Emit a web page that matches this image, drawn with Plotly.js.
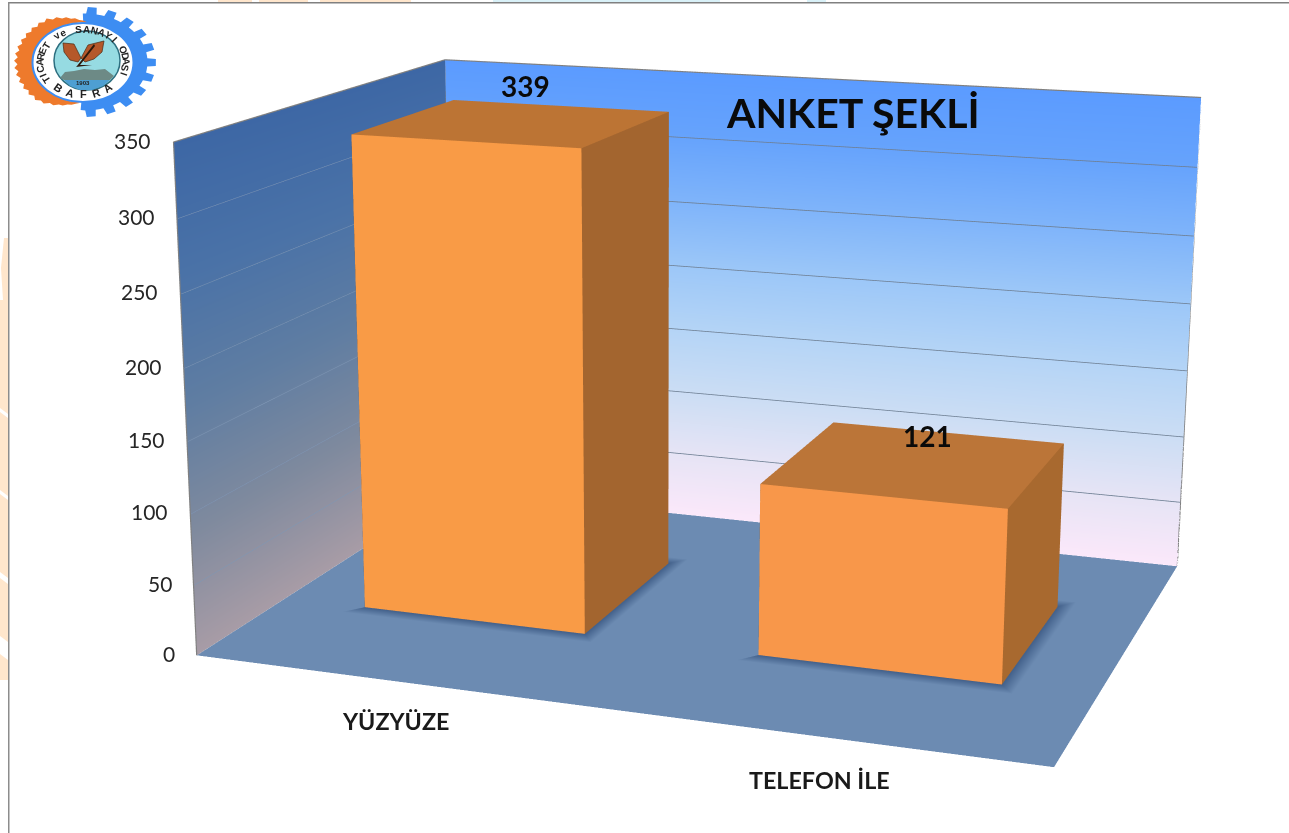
<!DOCTYPE html><html><head><meta charset="utf-8"><script src="https://cdn.plot.ly/plotly-3.0.1.min.js"></script></head><body style="margin:0;background:#fff;overflow:hidden"><div id="c" style="position:absolute;left:-5px;top:-730px"></div><script>
// ---- data ----
const categories=['YÜZYÜZE','TELEFON İLE'];
const values=[339,121];
const zTicks=[0,50,100,150,200,250,300,350];
const titleText='ANKET ŞEKLİ';
const logoTop='TICARET ve SANAYI ODASI';
const logoBottom='BAFRA';
const logoYear='1903';
// ---- plot geometry (the photographed window is a part of a larger plot) ----
const PW=1322,PH=2339,OX=-5,OY=-730;
const xRange=[-0.5,1.5],yRange=[0,1],zRange=[0,350];
const barHalfW=0.2855,barY=[0.305,0.705];
const px=x=>(x-OX)/PW,py=y=>1-(y-OY)/PH;
// ---- colours ----
const backStops=[[0,'#fbe8fa'],[50,'#e6e4f5'],[100,'#cbddf4'],[150,'#b4d4f6'],[200,'#9cc7f8'],[250,'#7fb4fa'],[300,'#66a3fc'],[350,'#5b9bff']];
const leftStops=[[0,'#a89ca6'],[87.5,'#7f8a9e'],[175,'#5f7da2'],[262.5,'#4a72a7'],[350,'#3d67a5']];
const flat={ambient:1,diffuse:0,specular:0,fresnel:0,roughness:1};
const base={type:'mesh3d',lighting:flat,flatshading:true,hoverinfo:'skip',showscale:false};
function wall(stops,fx,fy){const x=[],y=[],z=[],c=[],i=[],j=[],k=[];stops.forEach((s,n)=>{x.push(fx[0],fx[1]);y.push(fy[0],fy[1]);z.push(s[0],s[0]);c.push(s[1],s[1]);if(n){const a=2*n-2;i.push(a,a);j.push(a+1,a+3);k.push(a+3,a+2)}});return {...base,x,y,z,i,j,k,vertexcolor:c}}
function shadow(cx){const a=cx-barHalfW,b=cx+barHalfW,c=barY[0],d=barY[1],e=0.035,f=0.035,h=0.6,dark='#42608a',fl='#6c8bb2';
 const x=[a,b,b,a,a-e,b+e,b+e,a-e],y=[c,c,d,d,c-f,c-f,d+f,d+f],z=Array(8).fill(h),col=[dark,dark,dark,dark,fl,fl,fl,fl];
 return {...base,x,y,z,vertexcolor:col,i:[0,0,0,0,1,1,2,2],j:[1,5,1,2,2,6,3,7],k:[5,4,2,3,6,5,7,6]}}
function bar(cx,v,fc,tc,sc){const a=cx-barHalfW,b=cx+barHalfW,c=barY[0],d=barY[1];
 return {...base,x:[a,b,b,a,a,b,b,a],y:[c,c,d,d,c,c,d,d],z:[0,0,0,0,v,v,v,v],i:[0,0,4,4,1,1,0,0],j:[1,5,5,6,2,6,3,7],k:[5,4,6,7,6,5,7,4],facecolor:[fc,fc,tc,tc,sc,sc,sc,sc]}}
function gridLines(fx,fy,color,width){const x=[],y=[],z=[];zTicks.slice(1,-1).forEach(t=>{x.push(fx[0],fx[1],null);y.push(fy[0],fy[1],null);z.push(t,t,null)});return {type:'scatter3d',mode:'lines',x,y,z,line:{color,width},hoverinfo:'skip',showlegend:false}}
const xl=xRange[0],xr=xRange[1],zt=zRange[1];
const traces=[
 {...base,x:[xl,xr,xr,xl],y:[0,0,1,1],z:[0,0,0,0],i:[0,0],j:[1,2],k:[2,3],color:'#6c8bb2'},
 wall(backStops,[xl,xr],[1,1]),
 wall(leftStops,[xl,xl],[0,1]),
 gridLines([xl,xr],[0.997,0.997],'#6e7f93',1.6),
 gridLines([xl+0.002,xl+0.002],[0,1],'#7f96b4',1),
 {type:'scatter3d',mode:'lines',x:[xl,xl,xl,xr,xr,null,xl,xl],y:[0,0,1,1,1,null,1,1],z:[0,zt,zt,zt,0,null,zt,0],line:{color:'#808080',width:2.4},hoverinfo:'skip',showlegend:false},
 shadow(0),shadow(1),
 bar(0,values[0],'#f99b46','#bc7434','#a3652f'),
 bar(1,values[1],'#f8974a','#bb7538','#a8692f')
];
// ---- text drawn in the scene ----
const tickFont={family:'Lato, sans-serif',size:21,color:'#262626'};
const sceneAnn=[];
zTicks.forEach(t=>sceneAnn.push({x:xl,y:0,z:t,text:String(t),showarrow:false,xanchor:'right',yanchor:'middle',xshift:-20,yshift:2,font:tickFont}));
const catShift=[[1,-40],[-2,-43]],valShift=[[11,37],[12,27]];
categories.forEach((c,i)=>sceneAnn.push({x:i,y:0,z:0,text:c,showarrow:false,xanchor:'center',yanchor:'middle',xshift:catShift[i][0],yshift:catShift[i][1],font:{family:'Lato, sans-serif',size:23.3,weight:700,color:'#1a1a1a'}}));
values.forEach((v,i)=>sceneAnn.push({x:i,y:0.505,z:v,text:String(v),showarrow:false,xanchor:'center',yanchor:'middle',xshift:valShift[i][0],yshift:valShift[i][1],font:{family:'Lato, sans-serif',size:28,weight:700,color:'#0a0a0a'}}));
// ---- page decoration and logo ----
const shapes=[],ann=[];
const rect=(x0,y0,x1,y1,c)=>shapes.push({type:'rect',xref:'paper',yref:'paper',x0:px(x0),x1:px(x1),y0:py(y0),y1:py(y1),fillcolor:c,line:{width:0},layer:'below'});
const poly=(pts,c,lw,lc,closed=true)=>shapes.push({type:'path',xref:'paper',yref:'paper',path:pts.map((p,i)=>(i?'L':'M')+px(p[0]).toFixed(6)+','+py(p[1]).toFixed(6)).join('')+(closed?'Z':''),fillcolor:c,line:{width:lw||0,color:lc||c},layer:'below'});
const ell=(cx,cy,rx,ry,c,lw,lc)=>shapes.push({type:'circle',xref:'paper',yref:'paper',x0:px(cx-rx),x1:px(cx+rx),y0:py(cy+ry),y1:py(cy-ry),fillcolor:c,line:{width:lw||0,color:lc||c},layer:'below'});
const peach='#ffe6cc';
rect(0,238,8,680,peach);
[[0,238,3,300],[0,408,8,418],[0,490,8,500],[0,572,8,584],[0,636,8,660]].forEach((r,i)=>{poly(i?[[r[0],r[1]],[r[2],r[1]+6],[r[2],r[3]],[r[0],r[3]-6]]:[[0,238],[4,238],[1,268],[3,300],[0,300]],'#ffffff')});
[[218,252],[259,308],[320,411]].forEach(r=>rect(r[0],0,r[1],2,peach));
[[493,720],[807,826]].forEach(r=>rect(r[0],0,r[1],2,'#d9f1f8'));
rect(8,2,1289,3.5,'#808080');
rect(8,2,9.5,833,'#8c8c8c');
// logo: gear
const LX=85,LY=62;
(function(){const pts=[],n=11;const a0=-2,a1=184;for(let s=0;s<n;s++){const t0=a0+(a1-a0)*s/n,t1=a0+(a1-a0)*(s+1)/n,w=t1-t0;[[t0,62.5],[t0+w*.18,62.5],[t0+w*.25,71],[t0+w*.68,71],[t0+w*.75,62.5]].forEach(q=>{const r=q[0]*Math.PI/180,k=q[1]/71;pts.push([LX+71*k*Math.sin(r),LY-55*k*Math.cos(r)])})}
pts.push([LX+62.5*Math.sin(a1*Math.PI/180),LY-48*Math.cos(a1*Math.PI/180)]);pts.push([LX,LY]);poly(pts,'#3d8df2')})();
// logo: wheat
(function(){const arc=[];for(let a=-4;a<=176;a+=4){const r=a*Math.PI/180,sc=Math.min(1,Math.sin((a+4)/180*Math.PI)*1.6+.05),z=(a%8===0?1:.82)*sc;arc.push([83-50*Math.sin(r)-(19*z)*Math.sin(r),62.5-40*Math.cos(r)-(12*z)*Math.cos(r)])}
 const inn=[];for(let a=176;a>=-4;a-=4){const r=a*Math.PI/180;inn.push([83-50*Math.sin(r),62.5-40*Math.cos(r)])}
 poly(arc.concat(inn),'#ee7a2c')})();
ell(83,62.5,50.5,39.5,'#ffffff',2,'#3d8df2');
ell(87,60.5,33,29.5,'#96dbe2',1.5,'#2d6f80');
poly([[60,78],[65,72],[74,71],[84,69],[95,70],[105,69],[114,76],[110,80],[64,80]],'#6d8a86');
poly([[64,80],[110,80],[103,86],[92,90],[80,90],[70,86]],'#4e9fd2');
poly([[81,58],[74,44],[63,43],[64,52],[70,60],[78,62]],'#b5582a',.7,'#4a2a12');
poly([[81,58],[88,45],[104,41],[102,52],[94,59],[85,62]],'#b5582a',.7,'#4a2a12');
poly([[77,66],[94,44],[95,46],[80,65],[92,65],[76,67]],'#2d1a0c');
const letter=(ch,x,y,rot,size)=>ann.push({xref:'paper',yref:'paper',x:px(x),y:py(y),text:ch,textangle:rot,showarrow:false,xanchor:'center',yanchor:'middle',font:{family:'Liberation Sans, sans-serif',size,weight:700,color:'#232323'},borderpad:0});
[...logoTop].forEach((ch,i,all)=>{if(ch===' ')return;const t=-122+i*(232/(all.length-1)),r=t*Math.PI/180;letter(ch,83+43*Math.sin(r),62.5-33.5*Math.cos(r),t,10)});
[...logoBottom].forEach((ch,i,all)=>{const t=216-i*(72/(all.length-1)),r=t*Math.PI/180;letter(ch,83+42*Math.sin(r),62.5-32*Math.cos(r),t-180,11)});
letter(logoYear,83,83,0,6);
ann.push({xref:'paper',yref:'paper',x:px(853),y:py(113),text:titleText,showarrow:false,xanchor:'center',yanchor:'middle',font:{family:'Lato, sans-serif',size:41,weight:700,color:'#0a0a0a'}});
Plotly.newPlot('c',traces,{width:PW,height:PH,margin:{l:0,r:0,t:0,b:0},paper_bgcolor:'#ffffff',showlegend:false,hovermode:false,shapes,annotations:ann,
 scene:{bgcolor:'rgba(0,0,0,0)',domain:{x:[0,1],y:[0,1]},aspectmode:'manual',aspectratio:{x:1.6159,y:1.1676,z:0.961},
 xaxis:{visible:false,range:xRange},yaxis:{visible:false,range:yRange},zaxis:{visible:false,range:zRange},annotations:sceneAnn,
 camera:{eye:{x:1.6963,y:-4.9463,z:1.2838},center:{x:-0.2562,y:0.3924,z:-0.2626},up:{x:0.0024,y:-0.0048,z:1},projection:{type:'perspective'}}}},{displayModeBar:false});
</script></body></html>
